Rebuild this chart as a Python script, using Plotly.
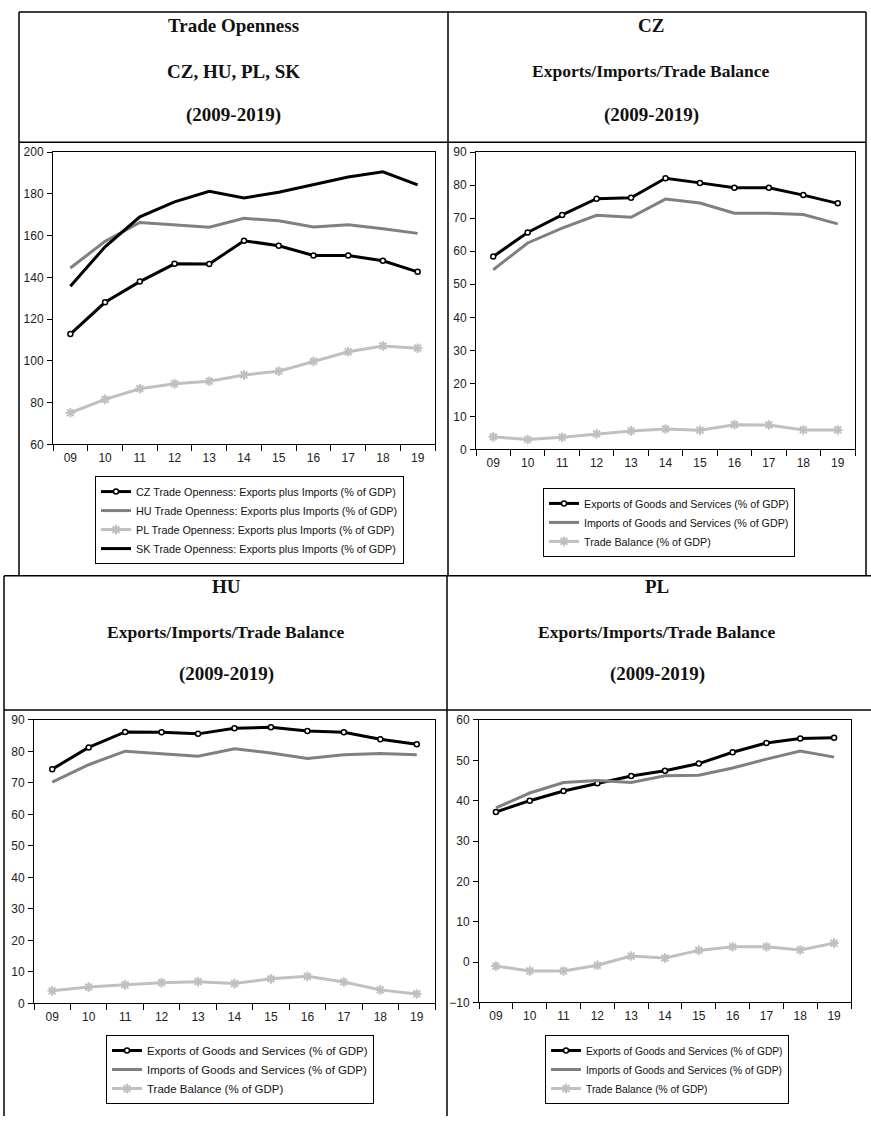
import plotly.graph_objects as go

W, H = 871, 1123

years = ["09", "10", "11", "12", "13", "14", "15", "16", "17", "18", "19"]

# Trade openness (% of GDP)
cz_open = [112.9, 128.1, 138.0, 146.5, 146.4, 157.6, 155.2, 150.5, 150.5, 148.0, 142.7]
hu_open = [144.5, 157.3, 166.3, 165.3, 164.1, 168.3, 167.1, 164.2, 165.2, 163.3, 161.1]
pl_open = [75.2, 81.6, 86.7, 89.1, 90.3, 93.3, 95.1, 99.8, 104.4, 107.2, 106.1]
sk_open = [135.8, 154.7, 169.0, 176.2, 181.3, 178.1, 180.8, 184.4, 188.1, 190.6, 184.3]

# CZ
cz_exp = [58.4, 65.7, 71.0, 75.9, 76.2, 82.1, 80.7, 79.2, 79.2, 77.0, 74.5]
cz_imp = [54.4, 62.5, 67.0, 70.9, 70.3, 75.8, 74.6, 71.5, 71.5, 71.1, 68.3]
cz_bal = [3.8, 3.0, 3.7, 4.7, 5.6, 6.2, 5.8, 7.5, 7.4, 5.9, 5.9]

# HU
hu_exp = [74.4, 81.3, 86.2, 86.1, 85.6, 87.4, 87.7, 86.5, 86.1, 83.9, 82.3]
hu_imp = [70.3, 75.8, 80.1, 79.3, 78.5, 80.9, 79.5, 77.8, 79.0, 79.4, 79.0]
hu_bal = [4.0, 5.2, 5.9, 6.6, 6.9, 6.3, 7.8, 8.6, 6.8, 4.3, 3.0]

# PL
pl_exp = [37.2, 40.0, 42.4, 44.3, 46.1, 47.4, 49.2, 52.0, 54.3, 55.4, 55.6]
pl_imp = [38.2, 41.9, 44.5, 45.0, 44.5, 46.2, 46.3, 48.1, 50.3, 52.3, 50.8]
pl_bal = [-1.0, -2.2, -2.2, -0.8, 1.5, 1.0, 2.9, 3.8, 3.8, 3.0, 4.7]

open_names = [
    "CZ Trade Openness: Exports plus Imports (% of GDP)",
    "HU Trade Openness: Exports plus Imports (% of GDP)",
    "PL Trade Openness: Exports plus Imports (% of GDP)",
    "SK Trade Openness: Exports plus Imports (% of GDP)",
]
eib_names = [
    "Exports of Goods and Services (% of GDP)",
    "Imports of Goods and Services (% of GDP)",
    "Trade Balance (% of GDP)",
]

BLACK = "#000000"
GRAY = "#808080"
LIGHT = "#c0c0c0"
SANS = "Liberation Sans, Arial, sans-serif"
SERIF = "Liberation Serif, Times New Roman, serif"


def px(p):
    return p / W


def py(p):
    return 1 - p / H


def style(kind):
    if kind == "circ":
        return dict(mode="lines+markers", line=dict(color=BLACK, width=3),
                    marker=dict(symbol="circle", size=5, color="white",
                                line=dict(color=BLACK, width=1.5)))
    if kind == "gray":
        return dict(mode="lines", line=dict(color=GRAY, width=3))
    if kind == "star":
        return dict(mode="lines+markers", line=dict(color=LIGHT, width=3),
                    marker=dict(symbol="asterisk-open", size=8, color=LIGHT,
                                line=dict(color=LIGHT, width=2)))
    return dict(mode="lines", line=dict(color=BLACK, width=3))


fig = go.Figure()

panel_series = [
    [(open_names[0], cz_open, "circ"), (open_names[1], hu_open, "gray"),
     (open_names[2], pl_open, "star"), (open_names[3], sk_open, "black")],
    [(eib_names[0], cz_exp, "circ"), (eib_names[1], cz_imp, "gray"),
     (eib_names[2], cz_bal, "star")],
    [(eib_names[0], hu_exp, "circ"), (eib_names[1], hu_imp, "gray"),
     (eib_names[2], hu_bal, "star")],
    [(eib_names[0], pl_exp, "circ"), (eib_names[1], pl_imp, "gray"),
     (eib_names[2], pl_bal, "star")],
]

# panel boxes in pixels: (left, right, top, bottom), y range, dtick
panels = [
    (53, 435, 147, 443, [60, 200], 20),
    (476, 855, 147, 448, [0, 90], 10),
    (34, 435, 722, 1009, [0, 90], 10),
    (479, 851, 722, 1008, [-10, 60], 10),
]

legend_ids = ["legend", "legend2", "legend3", "legend4"]
# legend top-left corner positions (px) and font sizes
legend_pos = [(95, 475, 10.8), (543, 487, 10.7), (106, 1041, 11.5), (545, 1041, 10.25)]

for i, series in enumerate(panel_series):
    ax = "" if i == 0 else str(i + 1)
    for name, vals, kind in series:
        fig.add_trace(go.Scatter(x=years, y=vals, name=name,
                                 xaxis="x" + ax, yaxis="y" + ax,
                                 legend=legend_ids[i], **style(kind)))
    l, r, t, b, yr, dt = panels[i]
    fig.layout["xaxis" + ax] = dict(
        domain=[px(l), px(r)], anchor="y" + ax, type="category",
        range=[-0.5, 10.5], tickson="boundaries", ticks="outside", ticklen=6,
        tickcolor="#000", tickwidth=1, showline=True, linecolor="#000",
        linewidth=1, mirror=True, showgrid=False, zeroline=False,
        ticklabelstandoff=2,
        tickfont=dict(family=SANS, size=12, color="#222"), fixedrange=True)
    fig.layout["yaxis" + ax] = dict(
        domain=[py(b), py(t)], anchor="x" + ax, range=yr, dtick=dt,
        ticks="outside", ticklen=5, tickcolor="#000", tickwidth=1,
        showline=True, linecolor="#000", linewidth=1, mirror=True,
        showgrid=False, zeroline=False, ticklabelstandoff=1,
        tickfont=dict(family=SANS, size=12, color="#222"), fixedrange=True)
    lx, ly, fs = legend_pos[i]
    fig.layout[legend_ids[i]] = dict(
        x=px(lx), y=py(ly), xanchor="left", yanchor="top", xref="paper",
        yref="paper", bgcolor="white", bordercolor="#000", borderwidth=1,
        font=dict(family=SANS, size=fs, color="#111"), tracegroupgap=0,
        itemwidth=30, traceorder="normal")

# table lines
shapes = []


def line(x0, y0, x1, y1):
    shapes.append(dict(type="line", xref="paper", yref="paper",
                       x0=px(x0), y0=py(y0), x1=px(x1), y1=py(y1),
                       line=dict(color="#000", width=1.5)))


# top table
line(19, 5, 866, 5)
line(19, 5, 19, 576)
line(866, 5, 866, 576)
line(448, 5, 448, 576)
line(19, 137, 866, 137)
# bottom table
line(4, 576, 871, 576)
line(4, 576, 4, 1123)
line(447, 576, 447, 1123)
line(4, 712, 871, 712)

titles = [
    (233, ["Trade Openness", "CZ, HU, PL, SK", "(2009-2019)"], [19, 65, 109]),
    (651, ["CZ", "Exports/Imports/Trade Balance", "(2009-2019)"], [19, 65, 109]),
    (226, ["HU", "Exports/Imports/Trade Balance", "(2009-2019)"], [587, 633, 675]),
    (657, ["PL", "Exports/Imports/Trade Balance", "(2009-2019)"], [587, 633, 675]),
]
annotations = []
for cx, texts, ys in titles:
    for t, yy in zip(texts, ys):
        fs = 17.5 if t.startswith("Exports") else 19
        annotations.append(dict(text="<b>%s</b>" % t, x=px(cx), y=py(yy),
                                xref="paper", yref="paper", showarrow=False,
                                xanchor="center", yanchor="middle",
                                font=dict(family=SERIF, size=fs, color="#111")))

fig.update_layout(width=W, height=H, margin=dict(l=0, r=0, t=0, b=0),
                  paper_bgcolor="white", plot_bgcolor="white",
                  shapes=shapes, annotations=annotations)

fig.write_html("out.html", config={"displayModeBar": False},
               post_script="document.body.style.margin='0';"
                           "document.body.style.overflow='hidden';")
